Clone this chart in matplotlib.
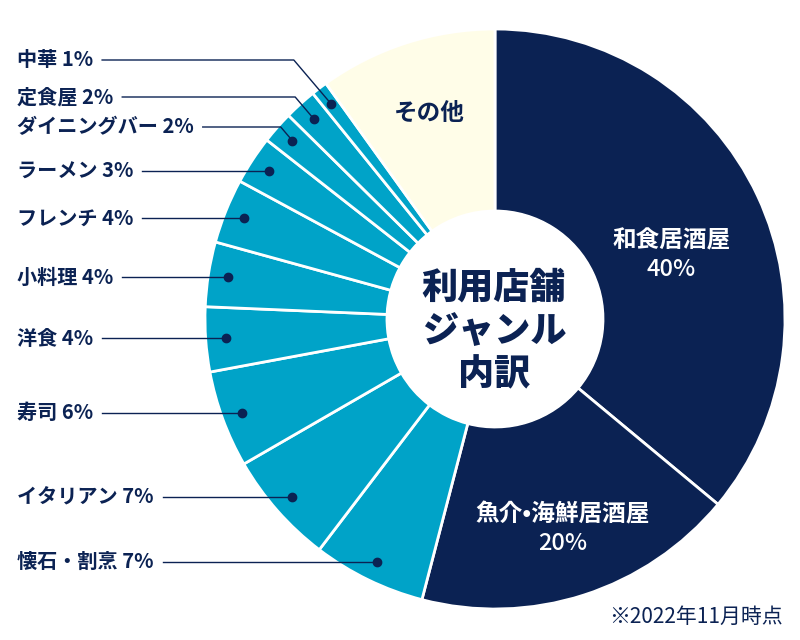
import numpy as np
import matplotlib
matplotlib.use("Agg")
import matplotlib.pyplot as plt

plt.rcParams['font.family'] = ['Noto Sans CJK JP', 'DejaVu Sans']

categories = ["和食居酒屋", "魚介•海鮮居酒屋", "懐石・割烹", "イタリアン", "寿司", "洋食",
              "小料理", "フレンチ", "ラーメン", "ダイニングバー", "定食屋", "中華", "その他"]
values = [40, 20, 7, 7, 6, 4, 4, 4, 3, 2, 2, 1, 11]
shown_pct = ["40%", "20%", "7%", "7%", "6%", "4%", "4%", "4%", "3%", "2%", "2%", "1%", ""]

NAVY = "#0b2253"
TEAL = "#00a3c8"
CREAM = "#fffde8"
colors = [NAVY, NAVY] + [TEAL] * 10 + [CREAM]

W, H = 800, 640
fig = plt.figure(figsize=(8, 6.4), dpi=100)
ax = fig.add_axes([0, 0, 1, 1])

cx, cy = 495, H - 319
R = 290
R_in = 108

wedges, _ = ax.pie(values, colors=colors, startangle=90, counterclock=False,
                   radius=R, center=(cx, cy),
                   wedgeprops=dict(width=R - R_in, edgecolor="white", linewidth=2))
ax.add_patch(plt.Circle((cx, cy), R_in, color="white", zorder=5))
ax.set_xlim(0, W)
ax.set_ylim(0, H)
ax.set_aspect("equal")
ax.axis("off")

def polar(w, r, off=0.0):
    a = np.deg2rad((w.theta1 + w.theta2) / 2 + off)
    return cx + r * np.cos(a), cy + r * np.sin(a)

# centre title
ax.text(cx - 1, cy - 12, "利用店舗\nジャンル\n内訳", ha="center", va="center",
        fontsize=26, fontweight="heavy", color=NAVY, linespacing=1.27, zorder=6)

# in-wedge labels
inside = {0: (188, -5), 1: (220, 0)}
for i, (r, off) in inside.items():
    x, y = polar(wedges[i], r, off)
    ax.text(x, y + 14, categories[i], ha="center", va="center", fontsize=17,
            fontweight="bold", color="white")
    ax.text(x, y - 15, shown_pct[i], ha="center", va="center", fontsize=17,
            fontweight="medium", color="white")

x, y = polar(wedges[12], 216)
ax.text(x, y, categories[12], ha="center", va="center", fontsize=17,
        fontweight="bold", color=NAVY)

# outside labels with leader lines
fixed_label_y = {11: 60, 10: 97, 9: 127}
fig.canvas.draw()
renderer = fig.canvas.get_renderer()
for i in range(2, 12):
    dx, dy = polar(wedges[i], 270)
    ly = H - fixed_label_y[i] if i in fixed_label_y else dy
    t = ax.text(17, ly, f"{categories[i]} {shown_pct[i]}", ha="left", va="center",
                fontsize=14.5, fontweight="bold", color=NAVY)
    bb = t.get_window_extent(renderer=renderer)
    x0 = bb.x1 + 9
    if abs(ly - dy) > 1:
        ex = dx - abs(ly - dy) * 0.85
        ax.plot([x0, ex, dx], [ly, ly, dy], color=NAVY, lw=1, zorder=7)
    else:
        ax.plot([x0, dx], [ly, dy], color=NAVY, lw=1, zorder=7)
    ax.plot(dx, dy, "o", color=NAVY, ms=6, zorder=8)

ax.text(783, H - 617, "※2022年11月時点", ha="right", va="center", fontsize=15,
        color=NAVY)

fig.savefig("out.png", dpi=100)
